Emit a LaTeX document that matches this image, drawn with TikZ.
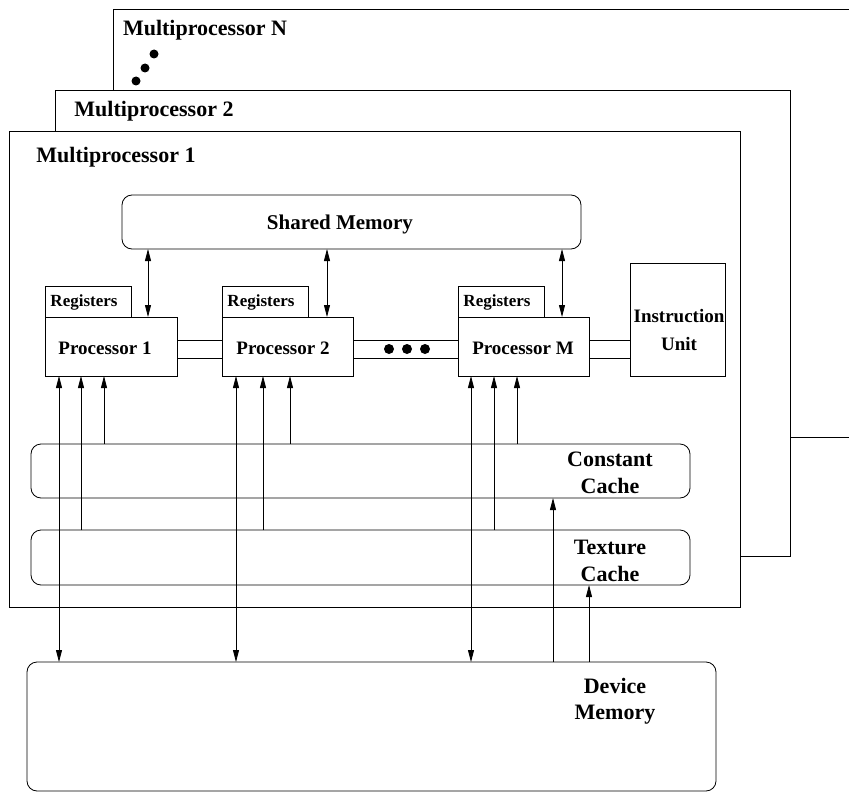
\documentclass[tikz,border=0pt]{standalone}
\usepackage{fontspec}
\setmainfont{Liberation Serif}
\usetikzlibrary{arrows.meta}
\begin{document}
\begin{tikzpicture}[x=1pt,y=-1pt,
  box/.style={draw,line width=0.8pt,fill=white,inner sep=0pt,outer sep=0pt,anchor=north west},
  rbox/.style={box,rounded corners=10pt},
  lbl/.style={font=\fontsize{22}{27}\selectfont\bfseries,inner sep=0pt,align=center},
  smlbl/.style={font=\fontsize{21}{25}\selectfont\bfseries,inner sep=0pt,align=center},
  plbl/.style={font=\fontsize{19}{28}\selectfont\bfseries,inner sep=0pt,align=center},
  rlbl/.style={font=\fontsize{17}{20}\selectfont\bfseries,inner sep=0pt},
  conn/.style={line width=0.8pt},
  up/.style={conn,-{Triangle[length=12pt,width=6pt]}},
  dbl/.style={conn,{Triangle[length=12pt,width=6pt]}-{Triangle[length=12pt,width=6pt]}},
]
\useasboundingbox (0,0) rectangle (849,792);
\clip (0,0) rectangle (849,792);

% multiprocessor frames
\node[box,minimum width=747pt,minimum height=428pt] (mpn) at (113,9) {};
\node[lbl] (mpnl) at (205,30) {Multiprocessor N};
\fill (154,54) circle (4.5pt) (145,68) circle (4.5pt) (136,81) circle (4.5pt);
\node[box,minimum width=735pt,minimum height=466pt] (mp2) at (55,90) {};
\node[lbl] (mp2l) at (154,111) {Multiprocessor 2};
\node[box,minimum width=731pt,minimum height=476pt] (mp1) at (9,131) {};
\node[lbl] (mp1l) at (116,157) {Multiprocessor 1};

% shared memory
\node[rbox,minimum width=459pt,minimum height=54pt] (shm) at (122,195) {};
\node[smlbl] (shml) at (340,224) {Shared Memory};

% registers
\node[box,minimum width=86pt,minimum height=31pt] (r1) at (45,286) {};
\node[box,minimum width=86pt,minimum height=31pt] (r2) at (222,286) {};
\node[box,minimum width=86pt,minimum height=31pt] (rm) at (458,286) {};
\node[rlbl] (r1l) at (84,302) {Registers};
\node[rlbl] (r2l) at (261,302) {Registers};
\node[rlbl] (rml) at (497,302) {Registers};

% processors
\node[box,minimum width=132pt,minimum height=59pt] (p1) at (45,317) {};
\node[box,minimum width=131pt,minimum height=59pt] (p2) at (222,317) {};
\node[box,minimum width=131pt,minimum height=59pt] (pm) at (458,317) {};
\node[plbl] (p1l) at (105,348) {Processor 1};
\node[plbl] (p2l) at (283,348) {Processor 2};
\node[plbl] (pml) at (523,348) {Processor M};

% instruction unit
\node[box,minimum width=95pt,minimum height=113pt] (iu) at (630,263) {};
\node[plbl] (iul) at (679,330) {Instruction\\Unit};

% processor interconnects
\foreach \a/\b in {p1/p2,p2/pm,pm/iu}{
  \path ([yshift=6.5pt]\a.east) coordinate (\a up) ([yshift=-11.5pt]\a.east) coordinate (\a dn);
  \draw[conn] (\a up) -- (\a up -| \b.west);
  \draw[conn] (\a dn) -- (\a dn -| \b.west);
}
\fill (389,349) circle (5pt) (407,349) circle (5pt) (425,349) circle (5pt);

% caches
\node[rbox,minimum width=659pt,minimum height=54pt] (cc) at (31,444) {};
\node[lbl] (ccl) at (610,472.5) {Constant\\Cache};
\node[rbox,minimum width=659pt,minimum height=55pt] (tc) at (31,530) {};
\node[lbl] (tcl) at (610,560.5) {Texture\\Cache};

% device memory
\node[rbox,minimum width=689pt,minimum height=129pt] (dm) at (27,662) {};
\node[lbl,font=\fontsize{22}{26}\selectfont\bfseries] (dml) at (615,701) {Device\\Memory};

% column coordinates
\foreach \x in {59,81,104,148,236,263,290,327,471,494,517,553,562,589}{
  \coordinate (x\x) at (\x,0);
}

% shared memory links
\draw[dbl] (x148 |- shm.south) -- (x148 |- p1.north);
\draw[dbl] (x327 |- shm.south) -- (x327 |- p2.north);
\draw[dbl] (x562 |- shm.south) -- (x562 |- pm.north);

% processor to device memory and caches
\draw[dbl] (x59 |- p1.south) -- (x59 |- dm.north);
\draw[up] (x81 |- tc.north) -- (x81 |- p1.south);
\draw[up] (x104 |- cc.north) -- (x104 |- p1.south);
\draw[dbl] (x236 |- p2.south) -- (x236 |- dm.north);
\draw[up] (x263 |- tc.north) -- (x263 |- p2.south);
\draw[up] (x290 |- cc.north) -- (x290 |- p2.south);
\draw[dbl] (x471 |- pm.south) -- (x471 |- dm.north);
\draw[up] (x494 |- tc.north) -- (x494 |- pm.south);
\draw[up] (x517 |- cc.north) -- (x517 |- pm.south);

% device memory to caches
\draw[up] (x553 |- dm.north) -- (x553 |- cc.south);
\draw[up] (x589 |- dm.north) -- (x589 |- tc.south);
\end{tikzpicture}
\end{document}
